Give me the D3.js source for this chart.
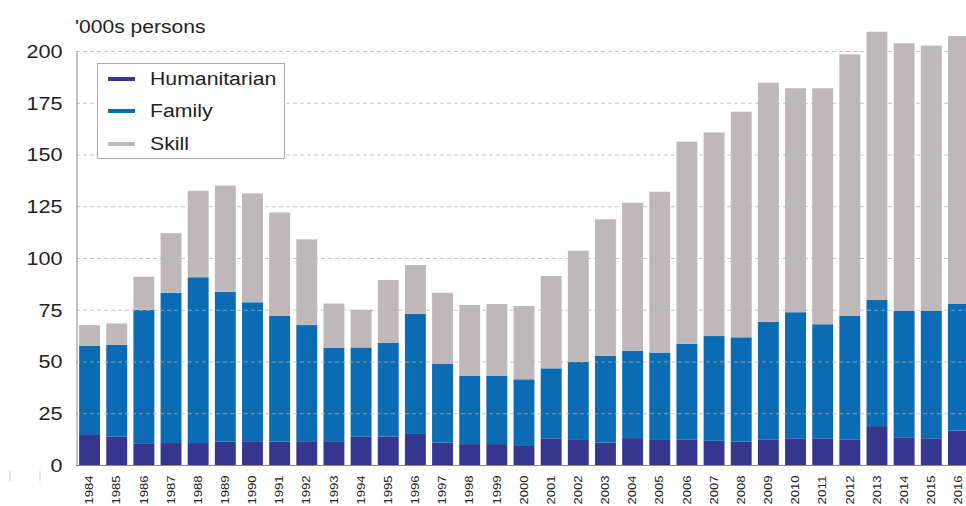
<!DOCTYPE html>
<html>
<head>
<meta charset="utf-8">
<script src="https://cdn.jsdelivr.net/npm/d3@7"></script>
<style>
  html, body { margin: 0; padding: 0; background: #fff; overflow: hidden; }
  svg { display: block; font-family: "Liberation Sans", Arial, sans-serif; }
</style>
</head>
<body>
<svg id="chart" width="966" height="506"></svg>
<script>
const years = ["1984","1985","1986","1987","1988","1989","1990","1991","1992","1993","1994","1995","1996","1997","1998","1999","2000","2001","2002","2003","2004","2005","2006","2007","2008","2009","2010","2011","2012","2013","2014","2015","2016"];
const humanitarian = [14.5,13.7,10.5,10.6,10.6,11.3,11.5,11.3,11.5,11.5,13.7,13.7,15.0,10.8,10.1,10.1,9.2,12.9,12.1,10.8,13.0,12.1,12.4,11.7,11.3,12.4,12.9,12.9,12.4,18.8,13.4,12.9,16.6];
const familyTop = [57.5,58.0,75.0,83.2,90.7,83.7,78.6,72.0,67.6,56.7,56.8,59.0,73.0,48.8,43.0,43.0,41.4,46.7,49.9,52.7,55.2,54.3,58.5,62.3,61.7,69.2,73.8,68.0,72.0,79.7,74.4,74.4,77.8];
const totals = [67.6,68.4,91.0,112.0,132.5,135.0,131.2,122.0,109.0,78.0,75.0,89.4,96.6,83.2,77.3,77.8,76.8,91.3,103.5,118.7,126.7,132.0,156.2,160.7,170.7,184.7,182.0,182.0,198.4,209.3,203.7,202.6,207.2];
const family = familyTop.map((v, i) => +(v - humanitarian[i]).toFixed(1));
const skill = totals.map((v, i) => +(v - familyTop[i]).toFixed(1));
const seriesNames = ["Humanitarian", "Family", "Skill"];
const colors = ["#37368f", "#0b6cb3", "#bfb8bb"];
const yTicks = [0, 25, 50, 75, 100, 125, 150, 175, 200];

const rows = years.map((y, i) => ({ year: y, Humanitarian: humanitarian[i], Family: family[i], Skill: skill[i] }));
const stack = d3.stack().keys(seriesNames)(rows);

const svg = d3.select("#chart");
const x = d3.scaleBand().domain(years).range([76, 972]).paddingInner(0.23).paddingOuter(0.115);
const y = d3.scaleLinear().domain([0, 200]).range([465, 51]);

// widen text horizontally like the stretched original
function stretch(sel, k) {
  sel.each(function () {
    const L = this.getComputedTextLength();
    this.setAttribute("textLength", (L * k).toFixed(1));
    this.setAttribute("lengthAdjust", "spacingAndGlyphs");
  });
}

// bars
svg.append("g").selectAll("g").data(stack).join("g")
  .attr("fill", (d, i) => colors[i])
  .selectAll("rect").data(d => d).join("rect")
  .attr("x", d => x(d.data.year))
  .attr("width", x.bandwidth())
  .attr("y", d => y(d[1]))
  .attr("height", d => y(d[0]) - y(d[1]));

// gridlines (drawn faintly over bars)
svg.append("g").selectAll("line").data(yTicks.filter(t => t > 0)).join("line")
  .attr("x1", 76).attr("x2", 966)
  .attr("y1", d => y(d) + 0.5).attr("y2", d => y(d) + 0.5)
  .attr("stroke", "#b4b4b4").attr("stroke-opacity", 0.75)
  .attr("stroke-dasharray", "4,3").attr("stroke-width", 1);

// y axis
const yAxis = svg.append("g").attr("transform", "translate(76.5,0)")
  .call(d3.axisLeft(y).tickValues(yTicks).tickSize(0).tickPadding(14));
yAxis.select(".domain").attr("stroke", "#888");
yAxis.selectAll("text").attr("font-size", 18).attr("fill", "#222").attr("dy", "0.36em")
  .call(stretch, 1.2);

// x axis
const xAxis = svg.append("g").attr("transform", "translate(0,465.5)")
  .call(d3.axisBottom(x).tickSize(0).tickPadding(0));
xAxis.select(".domain").attr("stroke", "#888").attr("d", "M76,0H966");
xAxis.selectAll("text")
  .attr("font-size", 10.5).attr("fill", "#222")
  .attr("transform", "rotate(-90)")
  .attr("text-anchor", "end")
  .attr("x", -10).attr("y", 0).attr("dy", "0.35em")
  .attr("textLength", 29).attr("lengthAdjust", "spacingAndGlyphs");

// unit label
svg.append("text").attr("x", 75).attr("y", 33)
  .attr("font-size", 18).attr("fill", "#222").text("'000s persons")
  .call(stretch, 1.17);

// legend
const lg = svg.append("g");
lg.append("rect").attr("x", 97.5).attr("y", 63.5).attr("width", 187).attr("height", 95)
  .attr("fill", "#fff").attr("stroke", "#aaa");
const legendY = [79, 111, 144];
seriesNames.forEach((n, i) => {
  lg.append("line").attr("x1", 108).attr("x2", 135).attr("y1", legendY[i]).attr("y2", legendY[i])
    .attr("stroke", colors[i]).attr("stroke-width", 4);
  lg.append("text").attr("x", 150).attr("y", legendY[i]).attr("dy", "0.36em")
    .attr("font-size", 18).attr("fill", "#222").text(n)
    .call(stretch, 1.18);
});

// faint marks at bottom-left
svg.append("g").selectAll("line").data([10, 40]).join("line")
  .attr("x1", d => d).attr("x2", d => d).attr("y1", 471).attr("y2", 481)
  .attr("stroke", "#ccc");
</script>
</body>
</html>
